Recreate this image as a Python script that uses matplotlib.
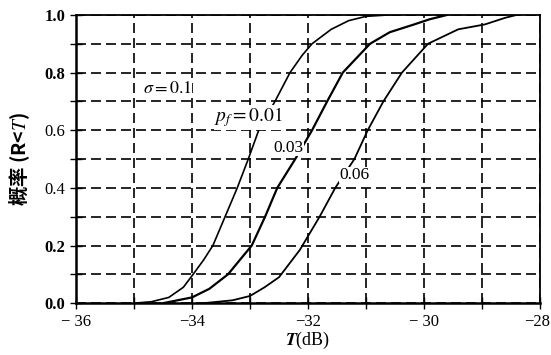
import matplotlib
matplotlib.use("Agg")
import matplotlib.pyplot as plt
import matplotlib.transforms as mtransforms

plt.rcParams['font.family'] = ['Liberation Serif', 'Noto Sans CJK SC']
plt.rcParams['mathtext.fontset'] = 'stix'

# ---- data ----
t_001 = [-35.0, -34.7, -34.4, -34.15, -34.0, -33.8, -33.64, -33.43, -33.22, -33.03,
         -32.85, -32.57, -32.31, -32.1, -31.93, -31.6, -31.3, -31.0, -30.6]
p_001 = [0.0, 0.005, 0.02, 0.055, 0.095, 0.15, 0.2, 0.3, 0.4, 0.5,
         0.6, 0.7, 0.8, 0.86, 0.9, 0.95, 0.98, 0.995, 1.0]

t_003 = [-34.5, -34.0, -33.7, -33.38, -32.97, -32.74, -32.53, -32.22, -31.93, -31.67,
         -31.4, -30.93, -30.59, -30.2, -29.9, -29.6]
p_003 = [0.0, 0.02, 0.05, 0.1, 0.2, 0.3, 0.4, 0.5, 0.6, 0.7,
         0.8, 0.9, 0.94, 0.965, 0.985, 1.0]

t_006 = [-33.8, -33.3, -33.0, -32.75, -32.5, -32.14, -31.8, -31.53, -31.2, -30.97,
         -30.7, -30.38, -29.93, -29.41, -28.95, -28.6, -28.4]
p_006 = [0.0, 0.01, 0.025, 0.055, 0.09, 0.185, 0.3, 0.4, 0.5, 0.6,
         0.7, 0.8, 0.9, 0.95, 0.967, 0.99, 1.0]

xticks = [-36, -34, -32, -30, -28]
xtick_labels = ["− 36", "−34", "−32", "− 30", "−28"]
yticks = [0.0, 0.2, 0.4, 0.6, 0.8, 1.0]
ytick_labels = ["0.0", "0.2", "0.4", "0.6", "0.8", "1.0"]

fig = plt.figure(figsize=(5.51, 3.55), dpi=100)
ax = fig.add_axes([0.138, 0.146, 0.842, 0.812])

ax.plot(t_001, p_001, color="black", lw=1.2, zorder=3)
ax.plot(t_003, p_003, color="black", lw=1.6, zorder=3)
ax.plot(t_006, p_006, color="black", lw=1.3, zorder=3)

ax.set_xlim(-36, -28)
ax.set_ylim(0, 1.0)
ax.set_xticks(xticks)
ax.set_xticklabels(xtick_labels, fontsize=12)
ax.set_xticks(range(-35, -28), minor=True)
ax.set_yticks(yticks)
ax.set_yticklabels(ytick_labels, fontsize=12)
ax.set_yticks([0.1, 0.3, 0.5, 0.7, 0.9], minor=True)
ax.tick_params(which="both", direction="inout", length=8, width=1.0, color="black")
for lab in ax.get_yticklabels():
    if lab.get_text() in ("0.0", "1.0", "0.8", "0.2"):
        lab.set_fontweight("bold")

# last x label sits at the right edge of the figure
last = ax.get_xticklabels()[-1]
last.set_ha("right")
last.set_transform(last.get_transform() +
                   mtransforms.ScaledTranslation(10 / 100, 0, fig.dpi_scale_trans))

ax.grid(which="both", color="black", linestyle=(0, (6, 3)), linewidth=1.2)
ax.set_axisbelow(True)

for side in ["left", "bottom"]:
    ax.spines[side].set_linewidth(1.8)
for side in ["top", "right"]:
    ax.spines[side].set_linewidth(1.3)

box = dict(facecolor="white", edgecolor="none", pad=0.3)
ax.text(-34.85, 0.745, r"$\sigma = 0.1$", fontsize=13, va="center", ha="left", bbox=box)
ax.text(-33.62, 0.645, r"$p_f = 0.01$", fontsize=14, va="center", ha="left", bbox=box, zorder=4)
ax.text(-32.34, 0.54, "0.03", fontsize=12.5, va="center", ha="center", bbox=box, zorder=4)
ax.text(-31.2, 0.445, "0.06", fontsize=12.5, va="center", ha="center", bbox=box, zorder=4)

ax.set_xlabel(r"$\boldsymbol{T}$(dB)", fontsize=13, labelpad=0)
ax.set_ylabel("概率 (R<$T$)", fontsize=14, fontweight="bold",
              family=['Noto Sans CJK SC', 'DejaVu Sans'])
ax.yaxis.set_label_coords(-0.095, 0.5)

fig.savefig("out.png", dpi=100)
